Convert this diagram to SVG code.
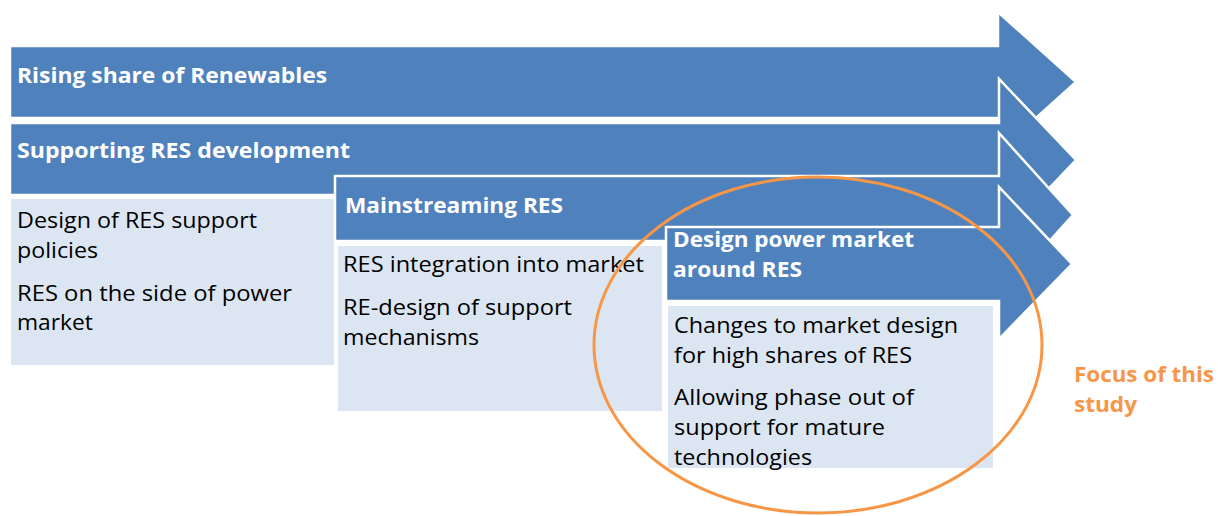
<svg xmlns="http://www.w3.org/2000/svg" width="1218" height="516" viewBox="0 0 1218 516">
<style>
.arrow{fill:#4F81BD;stroke:#FFFFFF;stroke-width:2.5;stroke-linejoin:miter}
.box{fill:#DCE6F2;stroke:#FFFFFF;stroke-width:2}
.h{font-family:"Open Sans","Liberation Sans",sans-serif;font-weight:bold;font-size:22px;fill:#FFFFFF}
.t{font-family:"Open Sans","Liberation Sans",sans-serif;font-size:22px;fill:#000000}
.f{font-family:"Open Sans","Liberation Sans",sans-serif;font-weight:bold;font-size:22px;fill:#F79646}
</style>
<rect width="1218" height="516" fill="#FFFFFF"/>
<g id="arrow-rising">
<path class="arrow" d="M10,46 H998 V12 L1076,82 L998,152 V118 H10 Z"/>
<text class="h" x="17" y="83" textLength="310" lengthAdjust="spacingAndGlyphs">Rising share of Renewables</text>
</g>
<g id="arrow-supporting">
<path class="arrow" d="M10,123 H999 V79 L1076,160 L999,241 V195 H10 Z"/>
<text class="h" x="17" y="158" textLength="333" lengthAdjust="spacingAndGlyphs">Supporting RES development</text>
</g>
<g id="box-supporting">
<rect class="box" x="10" y="198" width="325" height="168"/>
<text class="t" x="17" y="228" textLength="240" lengthAdjust="spacingAndGlyphs">Design of RES support</text>
<text class="t" x="17" y="258" textLength="81" lengthAdjust="spacingAndGlyphs">policies</text>
<text class="t" x="17" y="301" textLength="275" lengthAdjust="spacingAndGlyphs">RES on the side of power</text>
<text class="t" x="17" y="330" textLength="76" lengthAdjust="spacingAndGlyphs">market</text>
</g>
<g id="arrow-mainstreaming">
<path class="arrow" d="M335,176 H999 V133 L1073,215 L999,297 V241 H335 Z"/>
<text class="h" x="345" y="213" textLength="218" lengthAdjust="spacingAndGlyphs">Mainstreaming RES</text>
</g>
<g id="box-mainstreaming">
<rect class="box" x="337" y="245" width="326" height="167"/>
<text class="t" x="343" y="272" textLength="301" lengthAdjust="spacingAndGlyphs">RES integration into market</text>
<text class="t" x="343" y="315" textLength="229" lengthAdjust="spacingAndGlyphs">RE-design of support</text>
<text class="t" x="343" y="345" textLength="136" lengthAdjust="spacingAndGlyphs">mechanisms</text>
</g>
<g id="arrow-design">
<path class="arrow" d="M666,227 H999 V187 L1072,264 L999,339 V301 H666 Z"/>
<text class="h" x="673" y="247" textLength="241" lengthAdjust="spacingAndGlyphs">Design power market</text>
<text class="h" x="673" y="277" textLength="129" lengthAdjust="spacingAndGlyphs">around RES</text>
</g>
<g id="box-design">
<rect class="box" x="667" y="305" width="327" height="164"/>
<text class="t" x="674" y="333" textLength="284" lengthAdjust="spacingAndGlyphs">Changes to market design</text>
<text class="t" x="674" y="363" textLength="238" lengthAdjust="spacingAndGlyphs">for high shares of RES</text>
<text class="t" x="674" y="405" textLength="240" lengthAdjust="spacingAndGlyphs">Allowing phase out of</text>
<text class="t" x="674" y="435" textLength="211" lengthAdjust="spacingAndGlyphs">support for mature</text>
<text class="t" x="674" y="465" textLength="138" lengthAdjust="spacingAndGlyphs">technologies</text>
</g>
<g id="focus">
<ellipse cx="818" cy="345" rx="224" ry="168" fill="none" stroke="#F79646" stroke-width="3"/>
<text class="f" x="1074" y="382" textLength="140" lengthAdjust="spacingAndGlyphs">Focus of this</text>
<text class="f" x="1074" y="412" textLength="63" lengthAdjust="spacingAndGlyphs">study</text>
</g>
</svg>
